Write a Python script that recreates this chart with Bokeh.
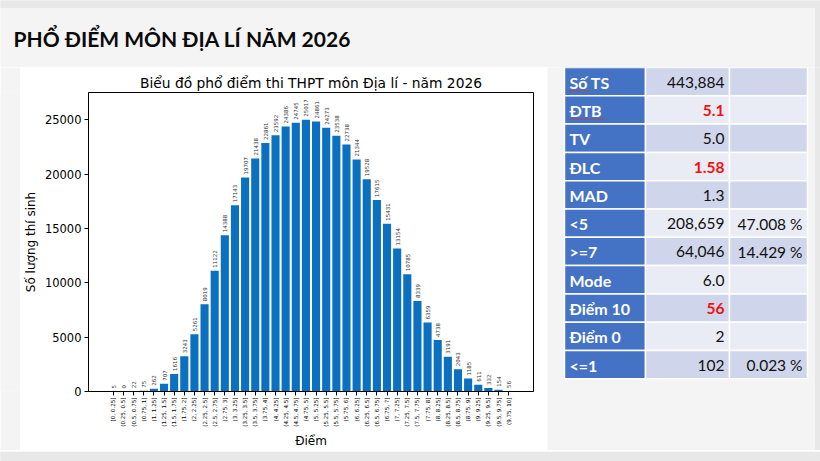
import math

from bokeh.core.properties import value
from bokeh.embed import file_html
from bokeh.layouts import column, row
from bokeh.models import FixedTicker, Range1d
from bokeh.plotting import figure
from bokeh.resources import INLINE

# ---------------------------------------------------------------- data
bin_labels = [
    "[0, 0.25]", "(0.25, 0.5]", "(0.5, 0.75]", "(0.75, 1]",
    "(1, 1.25]", "(1.25, 1.5]", "(1.5, 1.75]", "(1.75, 2]",
    "(2, 2.25]", "(2.25, 2.5]", "(2.5, 2.75]", "(2.75, 3]",
    "(3, 3.25]", "(3.25, 3.5]", "(3.5, 3.75]", "(3.75, 4]",
    "(4, 4.25]", "(4.25, 4.5]", "(4.5, 4.75]", "(4.75, 5]",
    "(5, 5.25]", "(5.25, 5.5]", "(5.5, 5.75]", "(5.75, 6]",
    "(6, 6.25]", "(6.25, 6.5]", "(6.5, 6.75]", "(6.75, 7]",
    "(7, 7.25]", "(7.25, 7.5]", "(7.5, 7.75]", "(7.75, 8]",
    "(8, 8.25]", "(8.25, 8.5]", "(8.5, 8.75]", "(8.75, 9]",
    "(9, 9.25]", "(9.25, 9.5]", "(9.5, 9.75]", "(9.75, 10]",
]
counts = [
    5, 0, 22, 75, 262, 707, 1616, 3243, 5261, 8019,
    11122, 14388, 17143, 19707, 21438, 22861, 23592, 24386, 24745, 25017,
    24861, 24273, 23538, 22738, 21344, 19528, 17615, 15431, 13154, 10785,
    8339, 6359, 4738, 3191, 2043, 1185, 611, 332, 154, 56,
]
y_ticks = [0, 5000, 10000, 15000, 20000, 25000]

stat_names = ["Số TS", "ĐTB", "TV", "ĐLC", "MAD", "<5", ">=7",
              "Mode", "Điểm 10", "Điểm 0", "<=1"]
stat_values = ["443,884", "5.1", "5.0", "1.58", "1.3", "208,659", "64,046",
               "6.0", "56", "2", "102"]
stat_shares = ["", "", "", "", "", "47.008 %", "14.429 %",
               "", "", "", "0.023 %"]
stat_highlight = [False, True, False, True, False, False, False,
                  False, True, False, False]

PAGE = "#f4f4f4"
EDGE = "#e8e8e8"
BAR = "#0a70bf"
MPL_FONT = value("DejaVu Sans")
SLIDE_FONT = value("Lato")


def blank(width, height, x0, x1, y0, y1):
    """A plain drawing surface in page pixel coordinates (y grows downward)."""
    f = figure(width=width, height=height,
               x_range=Range1d(x0, x1), y_range=Range1d(y1, y0),
               x_axis_location=None, y_axis_location=None,
               output_backend="svg", toolbar_location=None,
               min_border=0, margin=0)
    f.outline_line_color = None
    f.background_fill_color = PAGE
    f.border_fill_color = PAGE
    f.xgrid.visible = False
    f.ygrid.visible = False
    return f


# ---------------------------------------------------------------- header
header = blank(820, 67, 0, 820, 0, 67)
header.quad(left=[0], right=[820], top=[0], bottom=[7], color=EDGE)
header.quad(left=[815], right=[820], top=[7], bottom=[67], color=EDGE)
header.text(x=[13], y=[38], text=["PHỔ ĐIỂM MÔN ĐỊA LÍ NĂM 2026"],
            text_font=SLIDE_FONT, text_font_style="bold",
            text_font_size="21px", text_color="#0a0a0a",
            text_align="left", text_baseline="middle")

left_pad = blank(20, 383, 0, 20, 67, 450)
footer = blank(820, 11, 0, 820, 450, 461)
footer.quad(left=[0], right=[820], top=[451], bottom=[461], color=EDGE)

# ---------------------------------------------------------------- histogram
idx = list(range(len(counts)))
chart = figure(width=527, height=383,
               x_range=Range1d(-2.45, 41.45),
               y_range=Range1d(0, max(counts) * 1.1),
               title="Biểu đồ phổ điểm thi THPT môn Địa lí - năm 2026",
               output_backend="svg", toolbar_location=None,
               min_border_left=67, min_border_right=14,
               min_border_top=25, min_border_bottom=58, margin=0)
chart.background_fill_color = "white"
chart.border_fill_color = "white"
chart.outline_line_color = "black"
chart.outline_line_width = 1
chart.outline_line_alpha = 1
chart.xgrid.visible = False
chart.ygrid.visible = False

chart.title.align = "center"
chart.title.text_font = "DejaVu Sans"
chart.title.text_font_size = "13.8px"
chart.title.text_font_style = "normal"
chart.title.text_color = "black"
chart.title.standoff = 3

chart.vbar(x=idx, top=counts, width=0.8, fill_color=BAR, line_color=None)
chart.text(x=idx, y=counts, text=[str(c) for c in counts],
           angle=math.pi / 2, y_offset=-3,
           text_align="left", text_baseline="middle",
           text_font=MPL_FONT, text_font_size="5.5px", text_color="#333333")

for ax in (chart.xaxis[0], chart.yaxis[0]):
    ax.axis_line_color = "black"
    ax.major_tick_line_color = "black"
    ax.major_tick_out = 4
    ax.major_tick_in = 0
    ax.minor_tick_out = 0
    ax.minor_tick_in = 0
    ax.major_label_text_color = "black"
    ax.major_label_text_font = "DejaVu Sans"
    ax.axis_label_text_font = "DejaVu Sans"
    ax.axis_label_text_font_style = "normal"
    ax.axis_label_text_font_size = "12px"
    ax.axis_label_text_color = "black"

chart.xaxis.ticker = FixedTicker(ticks=idx)
chart.xaxis.major_label_overrides = {i: lab for i, lab in enumerate(bin_labels)}
chart.xaxis.major_label_orientation = math.pi / 2
chart.xaxis.major_label_text_font_size = "5.6px"
chart.xaxis.major_label_standoff = 2
chart.xaxis.axis_label = "Điểm"
chart.xaxis.axis_label_standoff = 4

chart.yaxis.ticker = FixedTicker(ticks=y_ticks)
chart.yaxis.major_label_text_font_size = "11.5px"
chart.yaxis.major_label_standoff = 3
chart.yaxis.axis_label = "Số lượng thí sinh"
chart.yaxis.axis_label_standoff = 4

# ---------------------------------------------------------------- summary table
side = blank(273, 383, 547, 820, 67, 450)
side.quad(left=[815], right=[820], top=[67], bottom=[450], color=EDGE)

col_edges = [564, 645, 729, 807]
row_top = 67
row_h = 28.3
n = len(stat_names)
tops = [row_top + i * row_h for i in range(n)]
bottoms = [t + row_h for t in tops]
band = ["#cfd5ea" if i % 2 == 0 else "#e9ebf5" for i in range(n)]

side.quad(left=[col_edges[0]] * n, right=[col_edges[1]] * n,
          top=tops, bottom=bottoms, fill_color="#4472c4",
          line_color="white", line_width=1.5)
side.quad(left=[col_edges[1]] * n, right=[col_edges[2]] * n,
          top=tops, bottom=bottoms, fill_color=band,
          line_color="white", line_width=1.5)
side.quad(left=[col_edges[2]] * n, right=[col_edges[3]] * n,
          top=tops, bottom=bottoms, fill_color=band,
          line_color="white", line_width=1.5)

mids = [t + row_h / 2 + 0.5 for t in tops]
side.text(x=[col_edges[0] + 5] * n, y=mids, text=stat_names,
          text_font=SLIDE_FONT, text_font_style="bold", text_font_size="16px",
          text_color="white", text_align="left", text_baseline="middle")
side.text(x=[col_edges[2] - 5] * n, y=mids, text=stat_values,
          text_font=SLIDE_FONT,
          text_font_style=["bold" if h else "normal" for h in stat_highlight],
          text_font_size="15.5px",
          text_color=["#ee1111" if h else "#111111" for h in stat_highlight],
          text_align="right", text_baseline="middle")
side.text(x=[col_edges[3] - 5] * n, y=mids, text=stat_shares,
          text_font=SLIDE_FONT, text_font_size="15.5px", text_color="#111111",
          text_align="right", text_baseline="middle")

# spell-checker squiggles under the abbreviations "Số" and "ĐTB"
squiggle_x = [[569, 588], [569, 604]]
squiggle_y = [[mids[0] + 9] * 2, [mids[1] + 9] * 2]
side.multi_line(xs=squiggle_x, ys=squiggle_y, line_color="#e03030",
                line_width=1.2, line_dash="1 1")

# ---------------------------------------------------------------- page
# the table surface is wrapped on its own so it keeps its full height
# instead of lining its frame up with the histogram's frame
page = column(header,
              row(left_pad, chart, column(side, spacing=0, margin=0),
                  spacing=0, margin=0),
              footer, spacing=0, margin=0)

open("out.html", "w").write(file_html(page, INLINE))
